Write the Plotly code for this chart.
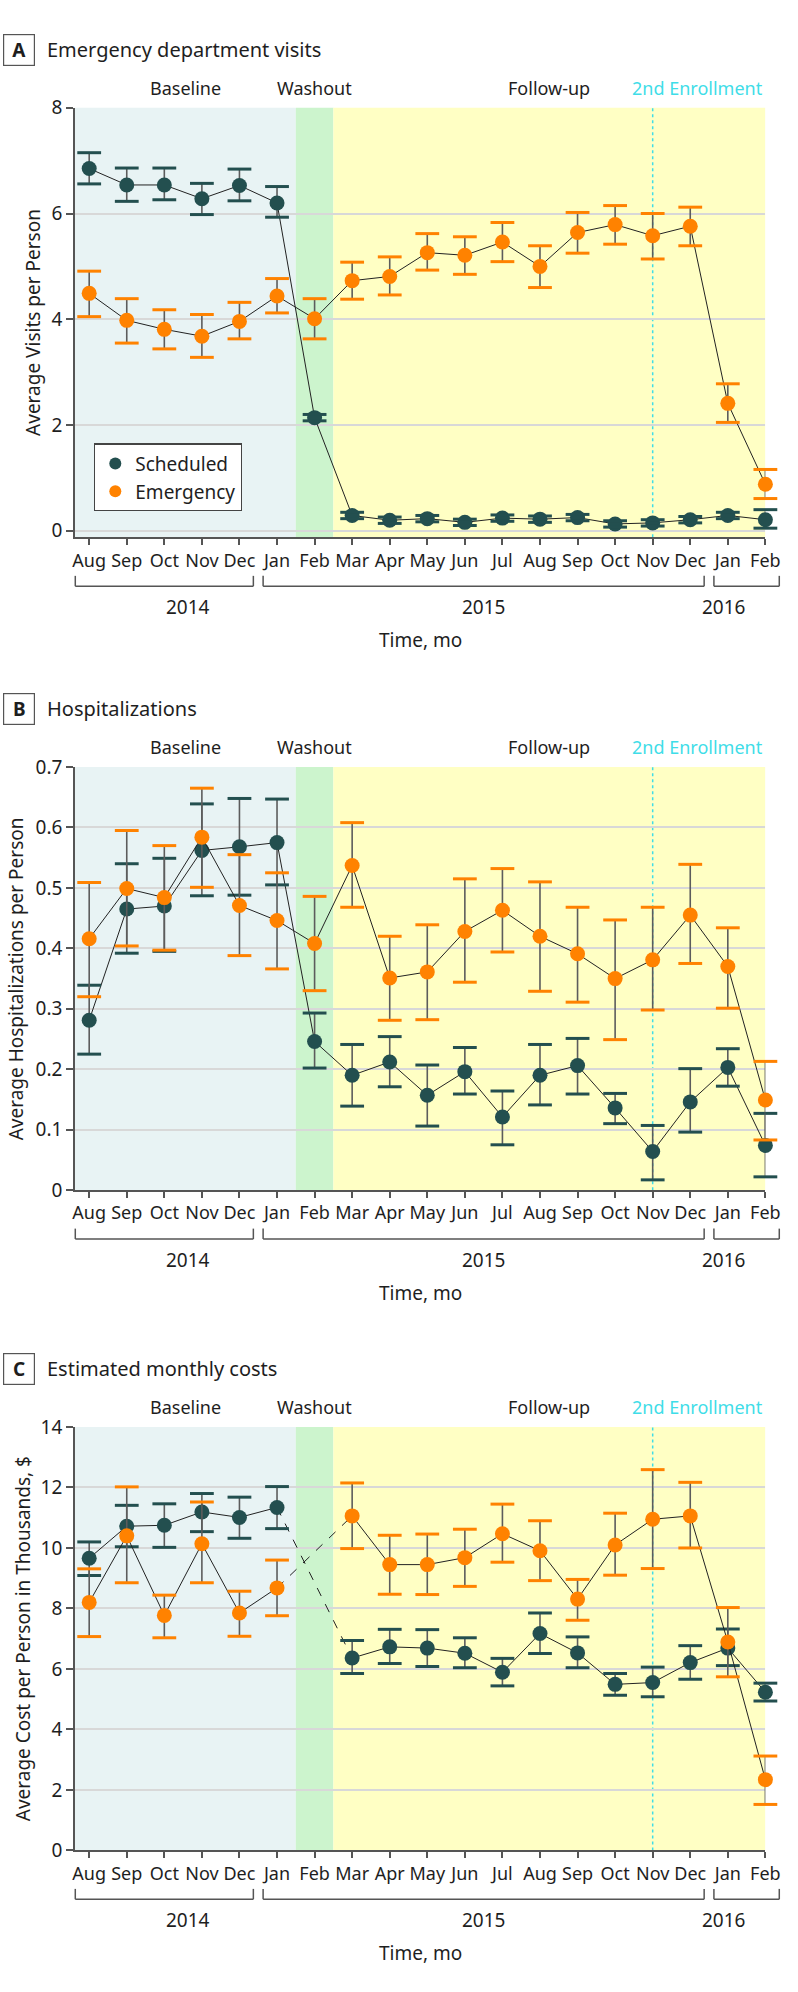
import plotly.graph_objects as go

# ---------------- data ----------------
months = ["Aug", "Sep", "Oct", "Nov", "Dec", "Jan", "Feb", "Mar", "Apr", "May",
          "Jun", "Jul", "Aug", "Sep", "Oct", "Nov", "Dec", "Jan", "Feb"]
idx = list(range(len(months)))
years = ["2014", "2015", "2016"]
year_first = [0, 5, 17]
year_last = [4, 16, 18]
phase_names = ["Baseline", "Washout", "Follow-up"]
phase_start = [-0.38, 5.5, 6.5]
phase_end = [5.5, 6.5, 18]
enroll2_idx = 15

# Panel A: Emergency department visits
ed_sched = [6.85, 6.54, 6.54, 6.28, 6.53, 6.20, 2.14, 0.29, 0.20, 0.23, 0.16, 0.24, 0.22, 0.25, 0.13, 0.15, 0.21, 0.29, 0.21]
ed_sched_hi = [7.15, 6.86, 6.86, 6.57, 6.84, 6.51, 2.20, 0.35, 0.26, 0.29, 0.22, 0.30, 0.28, 0.31, 0.19, 0.21, 0.27, 0.35, 0.40]
ed_sched_lo = [6.56, 6.23, 6.26, 5.98, 6.24, 5.93, 2.08, 0.23, 0.14, 0.17, 0.10, 0.18, 0.16, 0.19, 0.07, 0.09, 0.15, 0.23, 0.05]
ed_emerg = [4.49, 3.98, 3.81, 3.68, 3.96, 4.44, 4.01, 4.73, 4.81, 5.26, 5.21, 5.46, 5.00, 5.64, 5.79, 5.58, 5.76, 2.41, 0.88]
ed_emerg_hi = [4.91, 4.39, 4.18, 4.09, 4.32, 4.77, 4.39, 5.08, 5.18, 5.62, 5.56, 5.83, 5.39, 6.02, 6.15, 6.00, 6.12, 2.78, 1.16]
ed_emerg_lo = [4.05, 3.55, 3.44, 3.28, 3.63, 4.12, 3.63, 4.38, 4.46, 4.93, 4.85, 5.09, 4.60, 5.25, 5.42, 5.14, 5.39, 2.05, 0.61]

# Panel B: Hospitalizations
hosp_sched = [0.281, 0.465, 0.470, 0.562, 0.568, 0.575, 0.246, 0.190, 0.212, 0.157, 0.196, 0.121, 0.190, 0.206, 0.136, 0.064, 0.146, 0.203, 0.074]
hosp_sched_hi = [0.339, 0.540, 0.549, 0.639, 0.648, 0.647, 0.293, 0.241, 0.254, 0.207, 0.236, 0.164, 0.241, 0.251, 0.160, 0.107, 0.201, 0.234, 0.127]
hosp_sched_lo = [0.225, 0.392, 0.395, 0.487, 0.488, 0.505, 0.202, 0.139, 0.171, 0.106, 0.159, 0.075, 0.141, 0.159, 0.110, 0.017, 0.096, 0.172, 0.022]
hosp_emerg = [0.416, 0.499, 0.484, 0.584, 0.471, 0.446, 0.408, 0.537, 0.351, 0.361, 0.428, 0.463, 0.420, 0.391, 0.350, 0.381, 0.455, 0.370, 0.149]
hosp_emerg_hi = [0.509, 0.595, 0.570, 0.665, 0.555, 0.525, 0.486, 0.608, 0.420, 0.439, 0.515, 0.532, 0.510, 0.468, 0.447, 0.468, 0.539, 0.434, 0.213]
hosp_emerg_lo = [0.320, 0.404, 0.397, 0.501, 0.388, 0.366, 0.330, 0.468, 0.281, 0.282, 0.344, 0.394, 0.329, 0.311, 0.249, 0.298, 0.375, 0.301, 0.083]

# Panel C: Estimated monthly costs (thousands $)
cost_sched = [9.66, 10.72, 10.75, 11.19, 11.01, 11.34, None, 6.36, 6.73, 6.69, 6.52, 5.89, 7.17, 6.53, 5.49, 5.55, 6.21, 6.69, 5.23]
cost_sched_hi = [10.20, 11.41, 11.46, 11.80, 11.68, 12.03, None, 6.94, 7.31, 7.30, 7.03, 6.35, 7.85, 7.06, 5.85, 6.06, 6.77, 7.32, 5.53]
cost_sched_lo = [9.09, 10.04, 10.02, 10.54, 10.32, 10.64, None, 5.85, 6.18, 6.08, 6.04, 5.44, 6.51, 6.04, 5.13, 5.08, 5.66, 6.11, 4.94]
cost_emerg = [8.20, 10.40, 7.77, 10.14, 7.85, 8.68, None, 11.06, 9.45, 9.45, 9.68, 10.47, 9.91, 8.31, 10.10, 10.95, 11.06, 6.89, 2.34]
cost_emerg_hi = [9.31, 12.02, 8.44, 11.52, 8.57, 9.60, None, 12.15, 10.42, 10.46, 10.62, 11.45, 10.90, 8.96, 11.15, 12.59, 12.17, 8.03, 3.12]
cost_emerg_lo = [7.07, 8.85, 7.03, 8.85, 7.08, 7.76, None, 9.98, 8.47, 8.46, 8.73, 9.53, 8.92, 7.61, 9.10, 9.32, 10.00, 5.74, 1.52]

series_names = ["Scheduled", "Emergency"]
panel_letters = ["A", "B", "C"]
panel_titles = ["Emergency department visits", "Hospitalizations", "Estimated monthly costs"]
y_titles = ["Average Visits per Person", "Average Hospitalizations per Person",
            "Average Cost per Person in Thousands, $"]
y_ticks = [[0, 2, 4, 6, 8], [0, 0.1, 0.2, 0.3, 0.4, 0.5, 0.6, 0.7], [0, 2, 4, 6, 8, 10, 12, 14]]
y_ticktext = [["0", "2", "4", "6", "8"], ["0", "0.1", "0.2", "0.3", "0.4", "0.5", "0.6", "0.7"],
              ["0", "2", "4", "6", "8", "10", "12", "14"]]

panels = [
    [(ed_sched, ed_sched_lo, ed_sched_hi), (ed_emerg, ed_emerg_lo, ed_emerg_hi)],
    [(hosp_sched, hosp_sched_lo, hosp_sched_hi), (hosp_emerg, hosp_emerg_lo, hosp_emerg_hi)],
    [(cost_sched, cost_sched_lo, cost_sched_hi), (cost_emerg, cost_emerg_lo, cost_emerg_hi)],
]

# ---------------- style / layout ----------------
W, H = 798, 1992
FONT = "Noto Sans"
TXT = "#1e1e1e"
AX = "#555555"
GRID = "#d8d8d8"
COLORS = ["#234f4f", "#ff8200"]
STEM = "#5c5c5c"
PHASE_FILL = ["#e8f3f4", "#ccf4cd", "#ffffc4"]
CYAN = "#3fdde8"

X_L, X_R = 74.5, 780.0
tops = [96.0, 764.0, 1432.7]
bots = [531.3, 1192.7, 1861.7]
y_ranges = [[-0.124, 8], [0, 0.7], [0, 14]]
x_range = [phase_start[0], phase_end[-1]]


def py(p):
    return 1 - p / H


def xdom(v):
    return (v - x_range[0]) / (x_range[1] - x_range[0])


def pyd(p, k):
    """pixel row -> y-domain fraction of panel k"""
    return (bots[k] - p) / (bots[k] - tops[k])


fig = go.Figure()
layout = dict(
    width=W, height=H, margin=dict(l=0, r=0, t=0, b=0),
    paper_bgcolor="white", plot_bgcolor="white",
    font=dict(family=FONT, color=TXT, size=18),
    showlegend=True,
    legend=dict(x=94 / W, y=py(436), xanchor="left", yanchor="top",
                bgcolor="white", bordercolor="#444444", borderwidth=1.3,
                font=dict(size=19, family=FONT, color=TXT), tracegroupgap=0,
                itemsizing="constant"),
)
shapes = []
annotations = []

for p in range(3):
    sfx = "" if p == 0 else str(p + 1)
    xa, ya = "x" + sfx, "y" + sfx
    layout["xaxis" + sfx] = dict(
        domain=[X_L / W, X_R / W], range=x_range, anchor=ya,
        tickmode="array", tickvals=idx, ticktext=months,
        ticks="outside", ticklen=6, tickwidth=1.5, tickcolor=AX,
        showline=True, linecolor=AX, linewidth=1.5,
        showgrid=False, zeroline=False,
        tickfont=dict(size=18, family=FONT, color=TXT),
    )
    layout["yaxis" + sfx] = dict(
        domain=[py(bots[p]), py(tops[p])], range=y_ranges[p], anchor=xa,
        tickmode="array", tickvals=y_ticks[p], ticktext=y_ticktext[p],
        ticks="outside", ticklen=7, tickwidth=1.5, tickcolor=AX,
        showline=True, linecolor=AX, linewidth=1.5,
        showgrid=True, gridcolor=GRID, gridwidth=2, zeroline=False,
        tickfont=dict(size=19, family=FONT, color=TXT),
    )

    # phase backgrounds
    for k in range(3):
        shapes.append(dict(type="rect", xref=xa, yref=ya + " domain",
                           x0=phase_start[k], x1=phase_end[k], y0=0, y1=1,
                           fillcolor=PHASE_FILL[k], line=dict(width=0), layer="below"))
        annotations.append(dict(xref=xa, yref=ya + " domain", x=(phase_start[k] + phase_end[k]) / 2,
                                y=1, yanchor="middle", yshift=20, showarrow=False,
                                text=phase_names[k], font=dict(size=18, family=FONT, color=TXT)))
    shapes.append(dict(type="line", xref=xa, yref=ya + " domain", x0=enroll2_idx, x1=enroll2_idx,
                       y0=0, y1=1, line=dict(color=CYAN, width=1.5, dash="dot"), layer="below"))
    annotations.append(dict(xref=xa, yref=ya + " domain", x=x_range[1], xanchor="right",
                            y=1, yanchor="middle", yshift=20, showarrow=False,
                            text="2nd Enrollment", font=dict(size=18, family=FONT, color=CYAN)))

    # year brackets & labels
    yb_top = pyd(bots[p] + 39, p)
    yb_bot = pyd(bots[p] + 49.5, p)
    for k in range(len(years)):
        a = xdom(year_first[k] - 0.37)
        b = xdom(year_last[k] + 0.37)
        for (x0, x1, y0, y1) in [(a, b, yb_bot, yb_bot), (a, a, yb_top, yb_bot), (b, b, yb_top, yb_bot)]:
            shapes.append(dict(type="line", xref=xa + " domain", yref=ya + " domain",
                               x0=x0, x1=x1, y0=y0, y1=y1,
                               line=dict(color=AX, width=1.5), layer="above"))
        annotations.append(dict(xref=xa + " domain", yref=ya + " domain",
                                x=(a + b) / 2, y=0, yanchor="middle", yshift=-69.5,
                                showarrow=False, text=years[k],
                                font=dict(size=19, family=FONT, color=TXT)))
    annotations.append(dict(xref=xa + " domain", yref=ya + " domain", x=0.5, y=0,
                            yanchor="middle", yshift=-103, showarrow=False, text="Time, mo",
                            font=dict(size=19, family=FONT, color=TXT)))

    # panel title + letter box
    annotations.append(dict(xref="paper", yref="paper", x=44 / W, y=py(tops[p] - 59),
                            xanchor="left", yanchor="middle", showarrow=False,
                            text=panel_titles[p], font=dict(size=20, family=FONT, color=TXT)))
    annotations.append(dict(xref="paper", yref="paper", x=17 / W, y=py(tops[p] - 59),
                            xanchor="center", yanchor="middle", showarrow=False,
                            text="<b>" + panel_letters[p] + "</b>", width=28, height=28,
                            borderpad=1, bordercolor=AX, borderwidth=1.2,
                            font=dict(size=19, family=FONT, color=TXT)))
    # y-axis title
    ytx = [31, 14, 21][p]
    annotations.append(dict(xref="paper", yref="paper", x=ytx / W, y=py((tops[p] + bots[p]) / 2),
                            xanchor="center", yanchor="middle", textangle=-90, showarrow=False,
                            text=y_titles[p], font=dict(size=19, family=FONT, color=TXT)))

    # traces
    for s in range(2):
        yv, lo, hi = panels[p][s]
        c = COLORS[s]
        # connecting line (solid where consecutive data exists)
        fig.add_trace(go.Scatter(x=idx, y=yv, mode="lines", xaxis=xa, yaxis=ya,
                                 line=dict(color="#222222", width=1), connectgaps=False,
                                 showlegend=False, hoverinfo="skip", cliponaxis=False))
        # dashed bridges over missing months
        for i in range(1, len(yv) - 1):
            if yv[i] is None and yv[i - 1] is not None and yv[i + 1] is not None:
                fig.add_trace(go.Scatter(x=[idx[i - 1], idx[i + 1]], y=[yv[i - 1], yv[i + 1]],
                                         mode="lines", xaxis=xa, yaxis=ya,
                                         line=dict(color="#222222", width=1, dash="dash"),
                                         showlegend=False, hoverinfo="skip"))
        plus = [(h - v) if v is not None else None for v, h in zip(yv, hi)]
        minus = [(v - l) if v is not None else None for v, l in zip(yv, lo)]
        fig.add_trace(go.Scatter(
            x=idx, y=yv, mode="markers", xaxis=xa, yaxis=ya, name=series_names[s],
            legendgroup=series_names[s], showlegend=(p == 0),
            marker=dict(size=15, color=c, line=dict(width=0)),
            error_y=dict(type="data", symmetric=False, array=plus, arrayminus=minus,
                         color=STEM, thickness=1.6, width=0),
            cliponaxis=False))
        # colored caps
        cap_x = idx + idx
        cap_y = list(hi) + list(lo)
        fig.add_trace(go.Scatter(x=cap_x, y=cap_y, mode="markers", xaxis=xa, yaxis=ya,
                                 marker=dict(symbol="line-ew", size=17,
                                             line=dict(width=3, color=c)),
                                 showlegend=False, hoverinfo="skip", cliponaxis=False))

layout["shapes"] = shapes
layout["annotations"] = annotations
fig.update_layout(**layout)
fig.write_html("out.html", config={"displayModeBar": False},
               post_script="document.body.style.margin='0';document.body.style.padding='0';")
